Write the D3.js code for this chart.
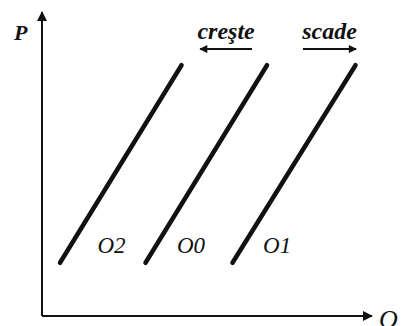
<!DOCTYPE html>
<html>
<head>
<meta charset="utf-8">
<script src="https://cdn.jsdelivr.net/npm/d3@7"></script>
<style>
  body { margin: 0; background: #fff; }
  text { font-family: "Liberation Serif", "DejaVu Serif", serif; font-style: italic; fill: #111; }
</style>
</head>
<body>
<div id="chart"></div>
<script>
// supply curves: name, quantity at low price, quantity at high price
const curveNames = ["O2", "O0", "O1"];
const qLow = [0.6, 3.45, 6.35];
const qHigh = [4.65, 7.5, 10.45];
const pLow = 1.75;
const pHigh = 8.25;
const labelQ = [1.85, 4.5, 7.37];
const labelP = 2.07;

// shift arrows
const shiftNames = ["creşte", "scade"];
const shiftFrom = [7.0, 8.7];
const shiftTo = [5.27, 10.47];
const shiftP = 8.78;

const W = 411, H = 326;

const svg = d3.select("#chart").append("svg")
  .attr("width", W)
  .attr("height", H);

const x = d3.scaleLinear().domain([0, 11]).range([42, 372]);
const y = d3.scaleLinear().domain([0, 10]).range([316, 12]);

const defs = svg.append("defs");
defs.append("marker")
  .attr("id", "head")
  .attr("viewBox", "0 0 10 10")
  .attr("refX", 9).attr("refY", 5)
  .attr("markerWidth", 12).attr("markerHeight", 10)
  .attr("markerUnits", "userSpaceOnUse")
  .attr("orient", "auto")
  .append("path")
  .attr("d", "M0,0 L10,5 L0,10 Z")
  .attr("fill", "#111");
defs.append("marker")
  .attr("id", "small")
  .attr("viewBox", "0 0 10 10")
  .attr("refX", 9).attr("refY", 5)
  .attr("markerWidth", 9).attr("markerHeight", 8)
  .attr("markerUnits", "userSpaceOnUse")
  .attr("orient", "auto")
  .append("path")
  .attr("d", "M0,0 L10,5 L0,10 Z")
  .attr("fill", "#111");

// axes
svg.append("line")
  .attr("x1", x(0)).attr("y1", y(0))
  .attr("x2", x(0)).attr("y2", y(10))
  .attr("stroke", "#111").attr("stroke-width", 2)
  .attr("marker-end", "url(#head)");
svg.append("line")
  .attr("x1", x(0)).attr("y1", y(0))
  .attr("x2", x(11)).attr("y2", y(0))
  .attr("stroke", "#111").attr("stroke-width", 2)
  .attr("marker-end", "url(#head)");

svg.append("text")
  .attr("x", 14).attr("y", 40)
  .style("font-weight", "bold")
  .style("font-size", "22px")
  .text("P");
svg.append("text")
  .attr("x", 379).attr("y", 328)
  .style("font-size", "26px")
  .text("O");

// curves
const curves = curveNames.map((n, i) => ({ name: n, q0: qLow[i], q1: qHigh[i], lq: labelQ[i] }));

svg.selectAll("line.curve")
  .data(curves)
  .enter()
  .append("line")
  .attr("class", "curve")
  .attr("x1", d => x(d.q0)).attr("y1", y(pLow))
  .attr("x2", d => x(d.q1)).attr("y2", y(pHigh))
  .attr("stroke", "#111")
  .attr("stroke-width", 4.5)
  .attr("stroke-linecap", "round");

svg.selectAll("text.lbl")
  .data(curves)
  .enter()
  .append("text")
  .attr("class", "lbl")
  .attr("x", d => x(d.lq))
  .attr("y", y(labelP))
  .style("font-size", "23px")
  .text(d => d.name);

// shift arrows with captions
const shifts = shiftNames.map((n, i) => ({ name: n, from: shiftFrom[i], to: shiftTo[i] }));

svg.selectAll("line.shift")
  .data(shifts)
  .enter()
  .append("line")
  .attr("class", "shift")
  .attr("x1", d => x(d.from)).attr("y1", y(shiftP))
  .attr("x2", d => x(d.to)).attr("y2", y(shiftP))
  .attr("stroke", "#111").attr("stroke-width", 2)
  .attr("marker-end", "url(#small)");

svg.selectAll("text.shift")
  .data(shifts)
  .enter()
  .append("text")
  .attr("class", "shift")
  .attr("x", d => (x(d.from) + x(d.to)) / 2)
  .attr("y", 39)
  .attr("text-anchor", "middle")
  .style("font-weight", "bold")
  .style("font-size", "24px")
  .text(d => d.name);
</script>
</body>
</html>
